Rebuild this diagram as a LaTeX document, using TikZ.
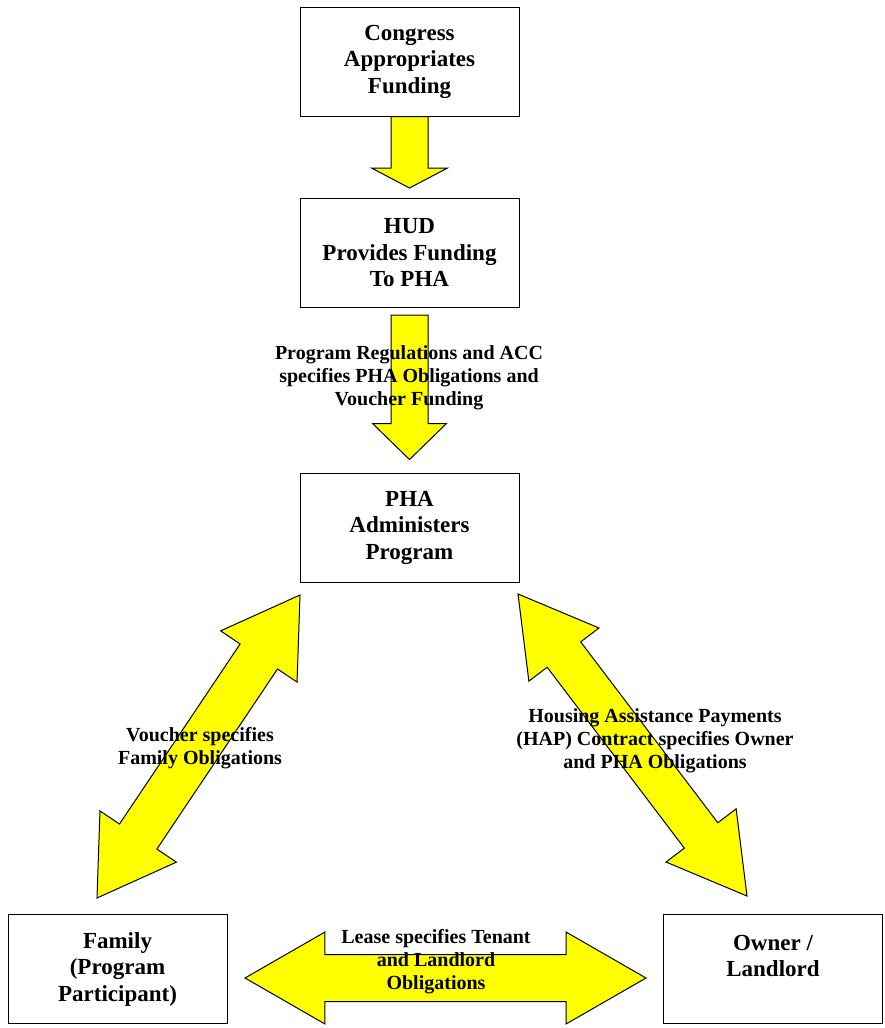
\documentclass[tikz,border=0pt]{standalone}
\usepackage{fontspec}
\setmainfont{Liberation Serif}
\usepackage{xcolor}
\usetikzlibrary{calc,positioning}
\definecolor{myellow}{HTML}{FFFF00}
\newcommand{\boxfont}{\bfseries\fontsize{23}{26.5}\selectfont}
\newcommand{\lblfont}{\bfseries\fontsize{20}{23}\selectfont}
\tikzstyle{l2}=[line width=1]
\tikzstyle{box}=[rectangle, draw=black, l2, minimum width=219, minimum height=109, align=center, font=\boxfont]
\tikzstyle{lbl}=[align=center, font=\lblfont, inner sep=0pt]
\tikzstyle{fat}=[draw=black, l2, fill=myellow, line join=miter]
% block arrows: from, to, head length, head half width, shaft half width
\newcommand{\fatsingle}[5]{%
  \pgfmathsetmacro{\hdist}{veclen(#3,#4)}
  \pgfmathsetmacro{\hang}{atan2(#4,#3)}
  \pgfmathsetmacro{\sdist}{veclen(#3,#5)}
  \pgfmathsetmacro{\sang}{atan2(#5,#3)}
  \draw[fat] ($(#1)!#5pt!90:(#2)$) -- ($(#2)!\sdist pt!-\sang:(#1)$) -- ($(#2)!\hdist pt!-\hang:(#1)$) -- (#2)
    -- ($(#2)!\hdist pt!\hang:(#1)$) -- ($(#2)!\sdist pt!\sang:(#1)$) -- ($(#1)!#5pt!-90:(#2)$) -- cycle;
}
\newcommand{\fatdouble}[5]{%
  \pgfmathsetmacro{\hdist}{veclen(#3,#4)}
  \pgfmathsetmacro{\hang}{atan2(#4,#3)}
  \pgfmathsetmacro{\sdist}{veclen(#3,#5)}
  \pgfmathsetmacro{\sang}{atan2(#5,#3)}
  \draw[fat] (#1) -- ($(#1)!\hdist pt!\hang:(#2)$) -- ($(#1)!\sdist pt!\sang:(#2)$)
    -- ($(#2)!\sdist pt!-\sang:(#1)$) -- ($(#2)!\hdist pt!-\hang:(#1)$) -- (#2)
    -- ($(#2)!\hdist pt!\hang:(#1)$) -- ($(#2)!\sdist pt!\sang:(#1)$)
    -- ($(#1)!\sdist pt!-\sang:(#2)$) -- ($(#1)!\hdist pt!-\hang:(#2)$) -- cycle;
}

\begin{document}
\begin{tikzpicture}[x=1pt, y=-1pt]
    \useasboundingbox (0,0) rectangle (884,1028);

    \node (cong) [box] at (409.5, 61.5) {Congress\\Appropriates\\Funding};
    \node (hud) [box] at (409.5, 253) {HUD\\Provides Funding\\To PHA};
    \node (pha) [box] at (409.5, 527.5) {PHA\\Administers\\Program};
    \node (family) [box] at (117.5, 969) {Family\\(Program\\Participant)};
    \node (owner) [box] at (773, 969) {Owner /\\Landlord\\~};

    % arrow ends
    \coordinate (hudtip) at ([yshift=10pt]hud.north);
    \coordinate (hudout) at ([yshift=-7pt]hud.south);
    \coordinate (phatip) at ([yshift=13pt]pha.north);
    \coordinate (phal) at (300, 595);
    \coordinate (phar) at (518, 594);
    \coordinate (famtip) at (97, 898);
    \coordinate (owntip) at (747, 896);
    \coordinate (leasel) at (245, 978);
    \coordinate (leaser) at (646, 978);

    \fatsingle{cong.south}{hudtip}{20}{38}{18.5}
    \fatsingle{hudout}{phatip}{36}{37}{18.5}
    \fatdouble{phal}{famtip}{74}{46}{22.5}
    \fatdouble{phar}{owntip}{76}{44}{21}
    \fatdouble{leasel}{leaser}{80}{46}{23.5}

    \node (reglbl) [lbl] at (409, 378) {Program Regulations and ACC\\specifies PHA Obligations and\\Voucher Funding};
    \node (vchlbl) [lbl] at (200, 748) {Voucher specifies\\Family Obligations};
    \node (haplbl) [lbl] at (655, 741) {Housing Assistance Payments\\(HAP) Contract specifies Owner\\and PHA Obligations};
    \node (leaselbl) [lbl] at (436, 962) {Lease specifies Tenant\\and Landlord\\Obligations};

\end{tikzpicture}
\end{document}
